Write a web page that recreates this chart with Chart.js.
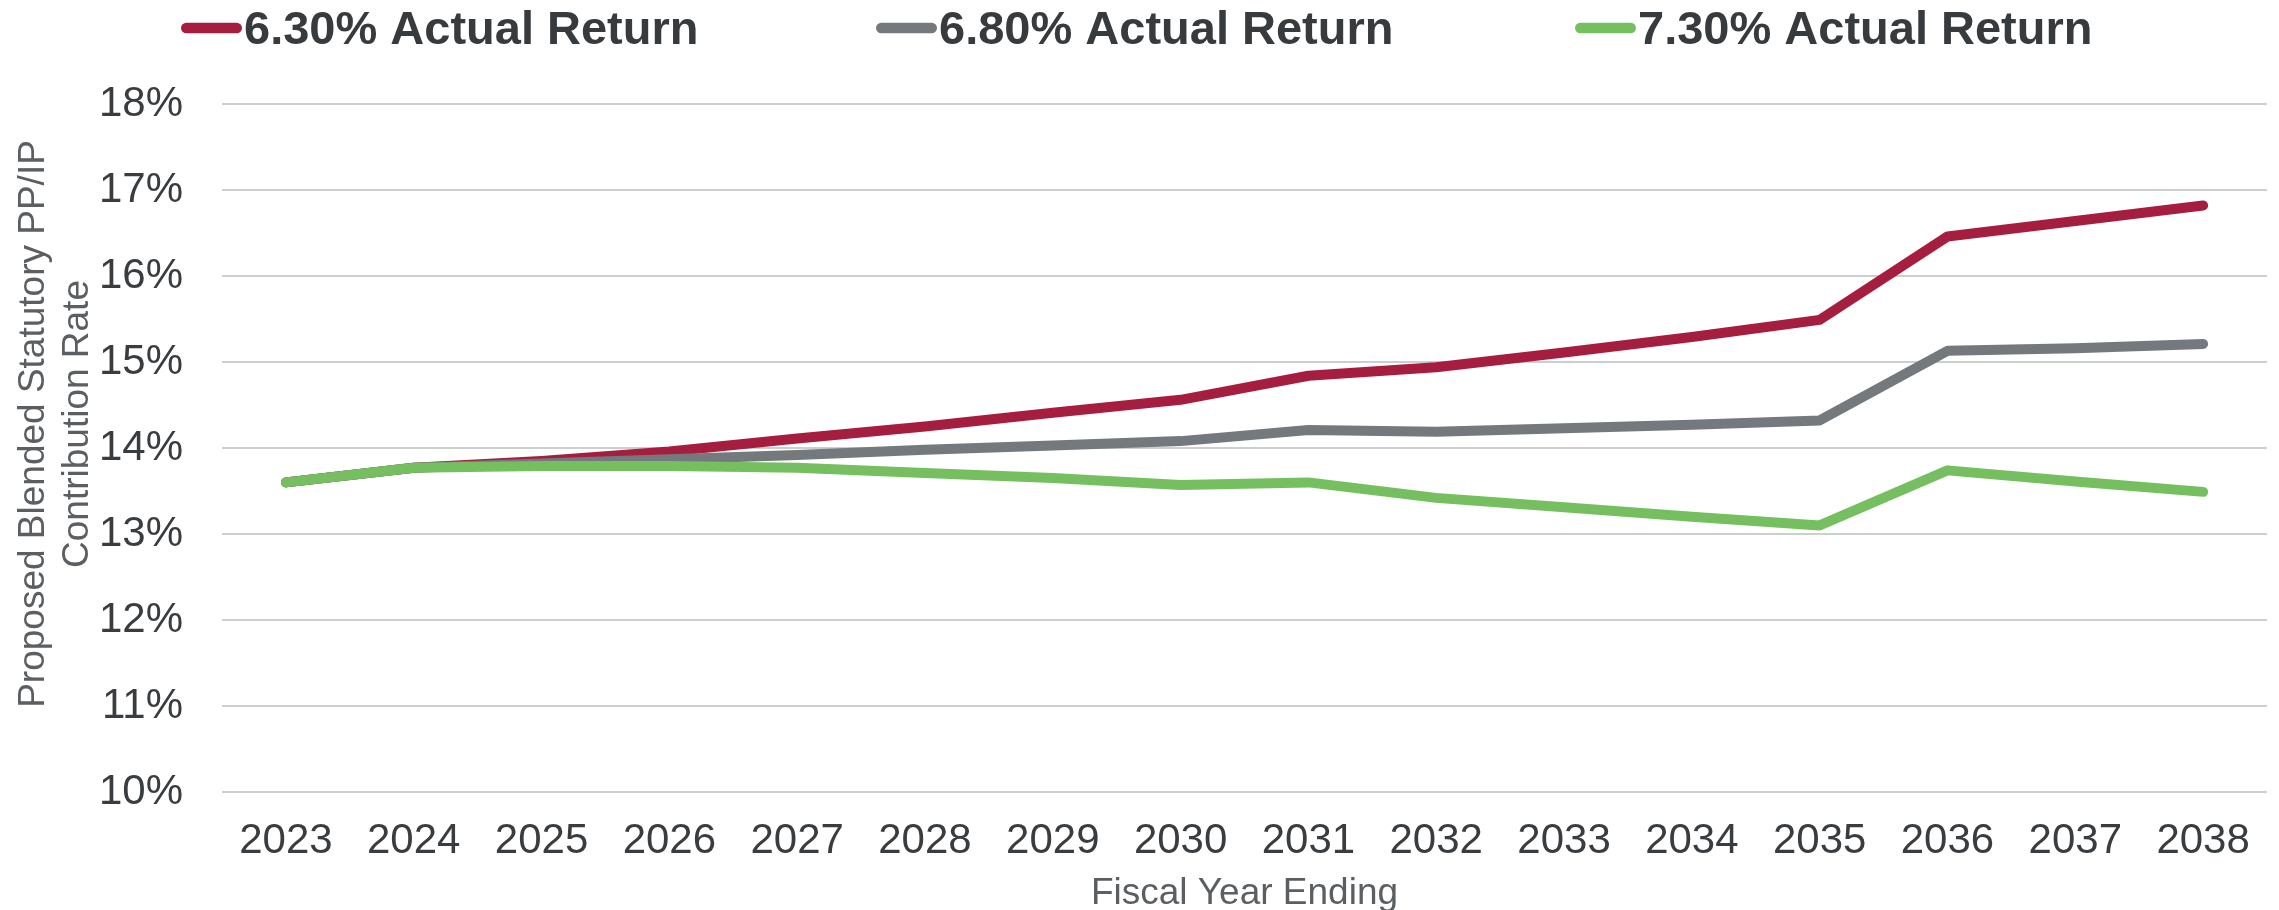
<!DOCTYPE html>
<html>
<head>
<meta charset="utf-8">
<script src="https://cdn.jsdelivr.net/npm/chart.js@4/dist/chart.umd.min.js"></script>
<style>
  html, body { margin: 0; padding: 0; background: #ffffff; }
  #wrap { width: 2279px; height: 910px; position: relative; }
</style>
</head>
<body>
<div id="wrap"><canvas id="c" width="2279" height="910"></canvas></div>
<script>
const categories = ['2023','2024','2025','2026','2027','2028','2029','2030','2031','2032','2033','2034','2035','2036','2037','2038'];
const seriesLabels = ['6.30% Actual Return', '6.80% Actual Return', '7.30% Actual Return'];
const return630 = [13.60, 13.77, 13.85, 13.96, 14.11, 14.25, 14.41, 14.56, 14.84, 14.94, 15.11, 15.29, 15.49, 16.46, 16.64, 16.82];
const return680 = [13.60, 13.77, 13.82, 13.87, 13.92, 13.98, 14.03, 14.08, 14.21, 14.19, 14.23, 14.27, 14.32, 15.13, 15.16, 15.21];
const return730 = [13.60, 13.77, 13.79, 13.79, 13.77, 13.71, 13.65, 13.57, 13.60, 13.42, 13.31, 13.20, 13.10, 13.74, 13.61, 13.49];
const yTickValues = [10, 11, 12, 13, 14, 15, 16, 17, 18];
const yTitleLines = ['Proposed Blended Statutory PP/IP', 'Contribution Rate'];
const xTitle = 'Fiscal Year Ending';

const FONT = '"Liberation Sans", Arial, Helvetica, sans-serif';

const topLegend = {
  id: 'topLegend',
  afterDraw(chart, args, opts) {
    const ctx = chart.ctx;
    ctx.save();
    ctx.font = 'bold ' + opts.fontSize + 'px ' + FONT;
    ctx.textBaseline = 'alphabetic';
    ctx.textAlign = 'left';
    chart.data.datasets.forEach((ds, i) => {
      const x = opts.itemX[i];
      const r = opts.thickness / 2;
      ctx.strokeStyle = ds.borderColor;
      ctx.lineWidth = opts.thickness;
      ctx.lineCap = 'round';
      ctx.beginPath();
      ctx.moveTo(x + r, opts.markerY);
      ctx.lineTo(x + opts.markerWidth - r, opts.markerY);
      ctx.stroke();
      ctx.fillStyle = opts.color;
      ctx.fillText(ds.label, x + opts.markerWidth + opts.textGap, opts.baselineY);
    });
    ctx.restore();
  }
};

const yTitlePlugin = {
  id: 'yTitle',
  afterDraw(chart, args, opts) {
    const ctx = chart.ctx;
    ctx.save();
    ctx.font = opts.fontSize + 'px ' + FONT;
    ctx.fillStyle = opts.color;
    ctx.textAlign = 'center';
    ctx.textBaseline = 'alphabetic';
    yTitleLines.forEach((line, i) => {
      ctx.save();
      ctx.translate(opts.baselineX[i], opts.centerY);
      ctx.rotate(-Math.PI / 2);
      ctx.fillText(line, 0, 0);
      ctx.restore();
    });
    ctx.restore();
  }
};

const colors = ['#A51E3F', '#73797C', '#75BF60'];
const seriesData = [return630, return680, return730];

new Chart(document.getElementById('c'), {
  type: 'line',
  data: {
    labels: categories,
    datasets: seriesData.map((d, i) => ({
      label: seriesLabels[i],
      data: d,
      borderColor: colors[i],
      backgroundColor: colors[i],
      borderWidth: 10,
      borderCapStyle: 'round',
      borderJoinStyle: 'round',
      pointRadius: 0,
      pointHoverRadius: 0,
      tension: 0,
      fill: false,
      order: 3 - i
    }))
  },
  plugins: [topLegend, yTitlePlugin],
  options: {
    responsive: false,
    animation: false,
    devicePixelRatio: 1,
    layout: { padding: { top: 104, right: 12, left: 0, bottom: 0 } },
    plugins: {
      legend: { display: false },
      tooltip: { enabled: false },
      topLegend: {
        fontSize: 47,
        itemX: [181, 876, 1575],
        markerWidth: 61,
        thickness: 10.5,
        markerY: 28,
        baselineY: 44,
        textGap: 2,
        color: '#383B3E'
      },
      yTitle: {
        fontSize: 37,
        baselineX: [44, 88],
        centerY: 424,
        color: '#5B5F62'
      }
    },
    scales: {
      x: {
        type: 'category',
        offset: true,
        grid: { display: false, drawTicks: false },
        border: { display: false },
        ticks: {
          color: '#3A3D40',
          font: { family: FONT, size: 42 },
          padding: 24,
          maxRotation: 0,
          autoSkip: false
        },
        title: {
          display: true,
          text: xTitle,
          color: '#5B5F62',
          font: { family: FONT, size: 37 },
          padding: { top: 0, bottom: -6 }
        },
        afterFit(scale) { scale.height = 118; }
      },
      y: {
        min: 10,
        max: 18,
        afterBuildTicks(scale) { scale.ticks = yTickValues.map(v => ({ value: v })); },
        grid: { color: '#CBCFCE', lineWidth: 2, drawTicks: false },
        border: { display: false },
        ticks: {
          color: '#3A3D40',
          font: { family: FONT, size: 42 },
          padding: 39,
          callback: v => v + '%'
        },
        title: { display: false },
        afterFit(scale) { scale.width = 222; }
      }
    }
  }
});
</script>
</body>
</html>
